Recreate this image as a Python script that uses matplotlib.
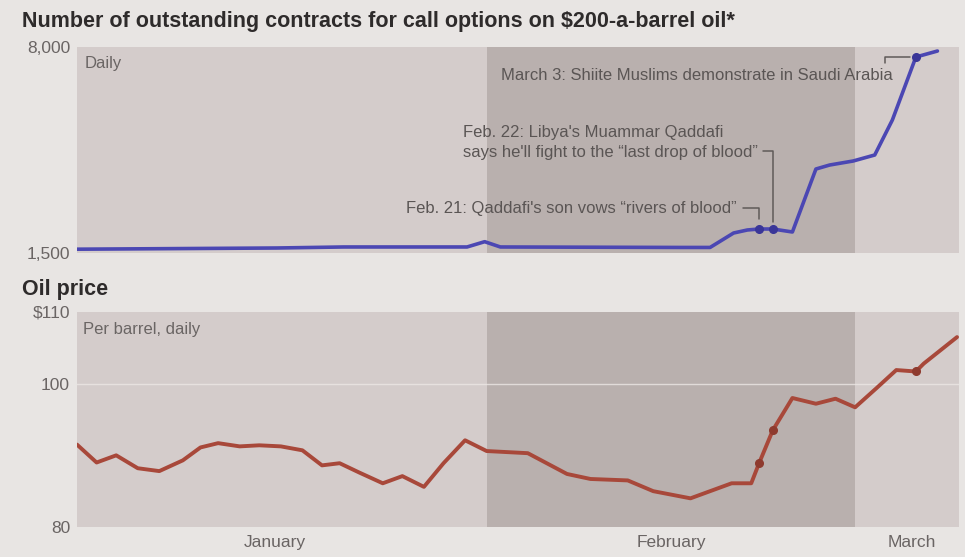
import matplotlib
matplotlib.use("Agg")
import matplotlib.pyplot as plt
from matplotlib import font_manager

# ---- data (x = trading-session position, Jan 3 = 0) ----
contracts_x = [0.0, 10.2, 13.6, 19.9, 20.8, 21.6, 30.8, 32.3, 33.5, 34.2,
               34.8, 35.5, 36.5, 37.7, 38.4, 39.6, 40.7, 41.6, 42.8, 43.9]
contracts_y = [1620, 1658, 1690, 1690, 1857, 1690, 1675, 1675, 2131, 2226,
               2257, 2257, 2163, 4150, 4276, 4403, 4592, 5696, 7684, 7873]

oil_x = [0.0, 1.0, 2.0, 3.1, 4.2, 5.4, 6.3, 7.2, 8.3, 9.3, 10.4, 11.5, 12.5,
         13.4, 14.4, 15.6, 16.6, 17.7, 18.7, 19.8, 20.9, 23.0, 25.0, 26.2,
         28.1, 29.4, 31.3, 32.4, 33.4, 34.4, 34.8, 35.5, 36.5, 37.7, 38.7,
         39.7, 40.8, 41.8, 42.8, 43.2, 44.9]
oil_y = [91.5, 89.0, 90.0, 88.2, 87.8, 89.3, 91.1, 91.7, 91.25, 91.4, 91.25,
         90.7, 88.6, 88.9, 87.6, 86.1, 87.1, 85.6, 88.9, 92.1, 90.6, 90.3,
         87.4, 86.7, 86.5, 85.0, 84.0, 85.1, 86.1, 86.1, 88.9, 93.5, 98.0,
         97.2, 97.9, 96.7, 99.4, 101.9, 101.7, 102.8, 106.5]

event_x = [34.8, 35.5, 42.8]
event_labels = [
    "Feb. 21: Qaddafi's son vows \u201crivers of blood\u201d",
    "Feb. 22: Libya's Muammar Qaddafi\nsays he'll fight to the \u201clast drop of blood\u201d",
    "March 3: Shiite Muslims demonstrate in Saudi Arabia",
]

month_bounds = [0, 20.9, 39.7, 45]
month_names = ["January", "February", "March"]
month_label_x = [10.1, 30.3, 42.6]

contracts_ticks = [1500, 8000]
contracts_ticklabels = ["1,500", "8,000"]
oil_ticks = [80, 100, 110]
oil_ticklabels = ["80", "100", "$110"]

# ---- style ----
installed = {f.name for f in font_manager.fontManager.ttflist}
narrow = "Liberation Sans Narrow" if "Liberation Sans Narrow" in installed else "Liberation Sans"
BG = "#e8e5e3"
LIGHT = "#d4cccb"
DARK = "#b9b0ae"
GREY_TXT = "#6a6564"
ANN_TXT = "#5a5554"
BLUE = "#4b47b3"
RED = "#a8483a"

fig = plt.figure(figsize=(9.65, 5.57), dpi=100, facecolor=BG)
W, H = 965, 557


def axes_px(left, top, right, bottom):
    return fig.add_axes([left / W, 1 - bottom / H, (right - left) / W, (bottom - top) / H])


ax1 = axes_px(77, 47, 959, 253)
ax2 = axes_px(77, 312, 959, 527)

for ax in (ax1, ax2):
    ax.set_facecolor(LIGHT)
    for s in ax.spines.values():
        s.set_visible(False)
    ax.set_xlim(month_bounds[0], month_bounds[-1])
    ax.axvspan(month_bounds[1], month_bounds[2], color=DARK, lw=0, zorder=0)
    ax.tick_params(length=0, labelsize=12, labelcolor=GREY_TXT)

# top panel: contracts
ax1.set_ylim(contracts_ticks[0], contracts_ticks[-1])
ax1.set_yticks(contracts_ticks)
ax1.set_yticklabels(contracts_ticklabels, family=narrow, fontsize=12.5, color=GREY_TXT)
ax1.tick_params(axis="y", pad=5)
ax1.set_xticks([])
ax1.plot(contracts_x, contracts_y, color=BLUE, lw=2.6, solid_joinstyle="round",
         solid_capstyle="round", zorder=3)
ev_c = [contracts_y[contracts_x.index(x)] for x in event_x]
ax1.plot(event_x, ev_c, "o", ms=5.5, color="#3a3698", zorder=4)

# bottom panel: oil price
ax2.set_ylim(oil_ticks[0], oil_ticks[-1])
ax2.set_yticks(oil_ticks)
ax2.set_yticklabels(oil_ticklabels, family=narrow, fontsize=12.5, color=GREY_TXT)
ax2.tick_params(axis="y", pad=5)
ax2.axhline(oil_ticks[1], color="#ece7e5", lw=1.0, alpha=0.8, zorder=1)
ax2.plot(oil_x, oil_y, color=RED, lw=2.8, solid_joinstyle="round",
         solid_capstyle="round", zorder=3)
ev_o = [oil_y[oil_x.index(x)] for x in event_x]
ax2.plot(event_x, ev_o, "o", ms=5.5, color="#8e3a2e", zorder=4)
ax2.set_xticks(month_label_x)
ax2.set_xticklabels(month_names, family=narrow, fontsize=12.5, color=GREY_TXT)
ax2.tick_params(axis="x", pad=6)

# titles and subtitles
fig.text(22 / W, 1 - 22 / H, "Number of outstanding contracts for call options on $200-a-barrel oil*",
         family="Liberation Sans", weight="bold", fontsize=15.5, color="#2e2b2b",
         ha="left", va="center")
fig.text(22 / W, 1 - 290 / H, "Oil price", family="Liberation Sans", weight="bold",
         fontsize=15.5, color="#2e2b2b", ha="left", va="center")
ax1.text(0.009, 0.92, "Daily", transform=ax1.transAxes, family=narrow, fontsize=12,
         color=GREY_TXT, ha="left", va="center")
ax2.text(0.007, 0.92, "Per barrel, daily", transform=ax2.transAxes, family=narrow,
         fontsize=12, color=GREY_TXT, ha="left", va="center")

# event annotations
lead = dict(arrowstyle="-", color="#5f5a59", lw=1.1)
ax1.annotate(event_labels[0], xy=(event_x[0], ev_c[0]), xytext=(-22, 21),
             textcoords="offset pixels", ha="right", va="center", family=narrow,
             fontsize=12, color=ANN_TXT,
             arrowprops=dict(lead, connectionstyle="angle,angleA=0,angleB=90,rad=0",
                             shrinkA=2, shrinkB=7, relpos=(1.0, 0.5)))
ax1.annotate(event_labels[1], xy=(event_x[1], ev_c[1]), xytext=(-310, 69),
             textcoords="offset pixels", ha="left", va="bottom", family=narrow,
             fontsize=12, color=ANN_TXT, linespacing=1.45,
             arrowprops=dict(lead, connectionstyle="angle,angleA=0,angleB=90,rad=0",
                             shrinkA=2, shrinkB=5, relpos=(1.0, 0.25)))
ax1.annotate(event_labels[2], xy=(event_x[2], ev_c[2]), xytext=(-23, -18),
             textcoords="offset pixels", ha="right", va="center", family=narrow,
             fontsize=12, color=ANN_TXT,
             arrowprops=dict(lead, connectionstyle="angle,angleA=90,angleB=0,rad=0",
                             shrinkA=1, shrinkB=4, relpos=(0.98, 1.0)))

fig.savefig("out.png", dpi=100, facecolor=BG)
